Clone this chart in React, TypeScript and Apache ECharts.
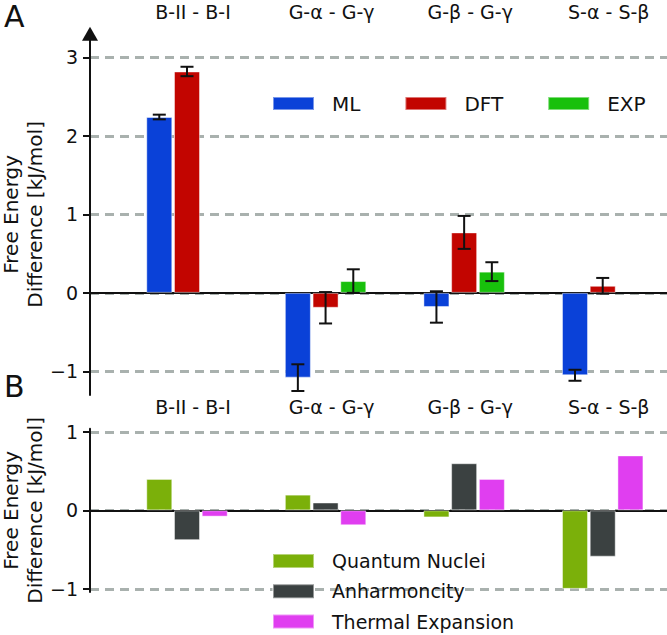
import React, { useEffect, useRef } from "react";
import * as echarts from "echarts";

// ---- data ----
const categories = ["B-II - B-I", "G-α - G-γ", "G-β - G-γ", "S-α - S-β"];

const mlValues = [2.24, -1.08, -0.18, -1.05];
const mlErrors = [0.03, 0.17, 0.2, 0.07];
const dftValues = [2.82, -0.19, 0.77, 0.09];
const dftErrors = [0.06, 0.2, 0.21, 0.1];
const expValues: (number | null)[] = [null, 0.15, 0.27, null];
const expErrors: (number | null)[] = [null, 0.15, 0.12, null];

const quantumValues = [0.4, 0.2, -0.09, -1.0];
const anharmValues = [-0.38, 0.1, 0.6, -0.59];
const thermalValues = [-0.08, -0.19, 0.4, 0.7];

const topTicks = [-1, 0, 1, 2, 3];
const bottomTicks = [-1, 0, 1];

const topSeriesNames = ["ML", "DFT", "EXP"];
const bottomSeriesNames = ["Quantum Nuclei", "Anharmoncity", "Thermal Expansion"];

// slot layout: each group occupies 3 bar slots + 2 gap slots
const SLOT_COUNT = 21;
const GROUP_START = 2;
const GROUP_STRIDE = 5;

const slotIndex = (group: number, member: number) => GROUP_START + group * GROUP_STRIDE + member;

const slotAxis = Array.from({ length: SLOT_COUNT }, (_, i) => String(i));
const labelAxis = Array.from({ length: SLOT_COUNT }, (_, i) => {
  const g = categories.findIndex((_, k) => slotIndex(k, 1) === i);
  return g >= 0 ? categories[g] : "";
});

function toSlots(values: (number | null)[], member: number) {
  const arr: (number | string)[] = Array(SLOT_COUNT).fill("-");
  values.forEach((v, g) => {
    if (v !== null) arr[slotIndex(g, member)] = v;
  });
  return arr;
}

function toErrors(values: (number | null)[], errors: (number | null)[], member: number) {
  const out: number[][] = [];
  values.forEach((v, g) => {
    const e = errors[g];
    if (v !== null && e !== null) out.push([slotIndex(g, member), v - e, v + e]);
  });
  return out;
}

const FONT = "DejaVu Sans";
const TEXT = "#111111";
const GRID_GRAY = "#a9b1ae";

const colors = {
  ML: "#0a41d8",
  DFT: "#c20500",
  EXP: "#18c00c",
  "Quantum Nuclei": "#7bb00a",
  Anharmoncity: "#3b4141",
  "Thermal Expansion": "#e03ef0",
} as Record<string, string>;

const minusFmt = (v: number) => (v < 0 ? "\u2212" + Math.abs(v) : String(v));

function yAxisCommon(gridIndex: number, min: number, max: number, ticks: number[], arrow: boolean) {
  return {
    type: "value",
    gridIndex,
    min,
    max,
    name: "Free Energy\nDifference [kJ/mol]",
    nameLocation: "middle",
    nameRotate: 90,
    nameGap: 43,
    nameMoveOverlap: false,
    nameTextStyle: { fontFamily: FONT, fontSize: 20, color: TEXT, lineHeight: 24 },
    axisLine: {
      show: true,
      symbol: arrow ? ["none", "triangle"] : ["none", "none"],
      symbolSize: [16, 14],
      lineStyle: { color: TEXT, width: 2 },
    },
    axisTick: { show: true, inside: false, length: 7, lineStyle: { color: TEXT, width: 2 }, customValues: ticks },
    axisLabel: {
      show: true,
      margin: 12,
      fontFamily: FONT,
      fontSize: 19,
      color: TEXT,
      customValues: ticks,
      formatter: minusFmt,
    },
    splitLine: {
      show: true,
      lineStyle: { color: GRID_GRAY, width: 3, type: [9, 6] },
    },
  };
}

function xAxes(gridIndex: number) {
  return [
    {
      type: "category",
      gridIndex,
      data: slotAxis,
      axisLine: { show: true, onZero: true, lineStyle: { color: TEXT, width: 2 } },
      axisTick: { show: false },
      axisLabel: { show: false },
      splitLine: { show: false },
    },
    {
      type: "category",
      gridIndex,
      position: "top",
      data: labelAxis,
      axisLine: { show: false, onZero: false },
      axisTick: { show: false },
      axisLabel: {
        show: true,
        interval: 0,
        margin: 12,
        fontFamily: FONT,
        fontSize: 19,
        color: TEXT,
        padding: [0, 0, 0, 12],
      },
      splitLine: { show: false },
    },
  ];
}

function barSeries(name: string, values: (number | null)[], member: number, xAxisIndex: number, yAxisIndex: number) {
  return {
    type: "bar",
    name,
    xAxisIndex,
    yAxisIndex,
    data: toSlots(values, member),
    barWidth: 26,
    barGap: "-100%",
    itemStyle: { color: colors[name], borderColor: "rgba(255,255,255,0.45)", borderWidth: 1 },
    z: 3,
  };
}

function errorSeries(data: number[][]) {
  return {
    type: "custom",
    xAxisIndex: 0,
    yAxisIndex: 0,
    data,
    encode: { x: 0, y: [1, 2] },
    z: 10,
    renderItem: (params: any, api: any) => {
      const x = api.value(0);
      const lo = api.coord([x, api.value(1)]);
      const hi = api.coord([x, api.value(2)]);
      const hw = 6.5;
      const style = { stroke: TEXT, lineWidth: 2, fill: "none" };
      return {
        type: "group",
        children: [
          { type: "line", shape: { x1: lo[0], y1: lo[1], x2: hi[0], y2: hi[1] }, style },
          { type: "line", shape: { x1: lo[0] - hw, y1: lo[1], x2: lo[0] + hw, y2: lo[1] }, style },
          { type: "line", shape: { x1: hi[0] - hw, y1: hi[1], x2: hi[0] + hw, y2: hi[1] }, style },
        ],
      };
    },
  };
}

export default function App() {
  const ref = useRef<HTMLDivElement>(null);

  useEffect(() => {
    if (!ref.current) return;
    const chart = echarts.init(ref.current, null, { renderer: "svg" });

    const option: any = {
      animation: false,
      backgroundColor: "#ffffff",
      textStyle: { fontFamily: FONT },
      grid: [
        { left: 90, top: 33.8, width: 582, height: 361.1, containLabel: false, outerBoundsMode: "none" },
        { left: 90, top: 428.7, width: 582, height: 163.3, containLabel: false, outerBoundsMode: "none" },
      ],
      xAxis: [...xAxes(0), ...xAxes(1)],
      yAxis: [yAxisCommon(0, -1.3, 3.3, topTicks, true), yAxisCommon(1, -1.04, 1.04, bottomTicks, false)],
      legend: [
        {
          data: topSeriesNames,
          orient: "horizontal",
          left: 272,
          top: 93.5,
          padding: 0,
          itemWidth: 41,
          itemHeight: 13,
          itemGap: 44,
          icon: "rect",
          textStyle: { fontFamily: FONT, fontSize: 20, color: TEXT, lineHeight: 20, padding: [0, 0, 0, 13] },
          selectedMode: false,
        },
        {
          data: bottomSeriesNames,
          orient: "vertical",
          left: 272,
          top: 551,
          padding: 0,
          itemWidth: 41,
          itemHeight: 14,
          itemGap: 10.3,
          icon: "rect",
          textStyle: { fontFamily: FONT, fontSize: 19, color: TEXT, lineHeight: 20, padding: [0, 0, 0, 13] },
          selectedMode: false,
        },
      ],
      graphic: [
        { type: "text", left: 4, top: 1, style: { text: "A", fontFamily: FONT, fontSize: 30, lineHeight: 30, fill: TEXT } },
        { type: "text", left: 4, top: 371, style: { text: "B", fontFamily: FONT, fontSize: 30, lineHeight: 30, fill: TEXT } },
      ],
      series: [
        barSeries("ML", mlValues, 0, 0, 0),
        barSeries("DFT", dftValues, 1, 0, 0),
        barSeries("EXP", expValues, 2, 0, 0),
        errorSeries([
          ...toErrors(mlValues, mlErrors, 0),
          ...toErrors(dftValues, dftErrors, 1),
          ...toErrors(expValues, expErrors, 2),
        ]),
        barSeries("Quantum Nuclei", quantumValues, 0, 2, 1),
        barSeries("Anharmoncity", anharmValues, 1, 2, 1),
        barSeries("Thermal Expansion", thermalValues, 2, 2, 1),
      ],
    };

    chart.setOption(option);
    return () => chart.dispose();
  }, []);

  return <div ref={ref} style={{ position: "absolute", left: 0, top: 0, width: 667, height: 635 }} />;
}
